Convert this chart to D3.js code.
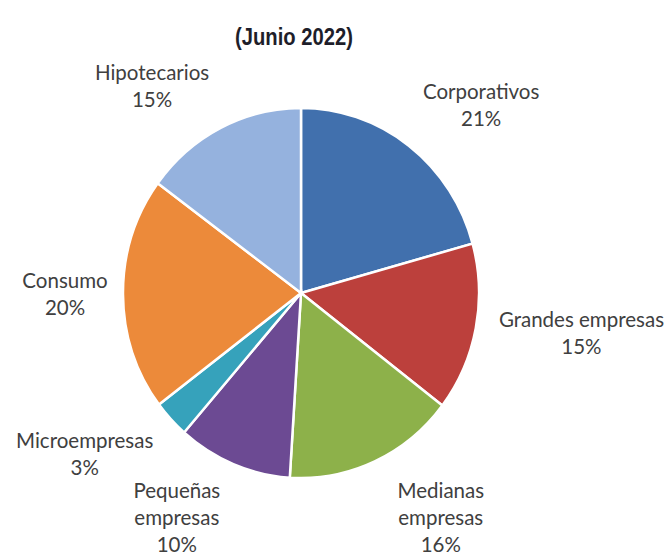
<!DOCTYPE html>
<html>
<head>
<meta charset="utf-8">
<script src="https://cdn.jsdelivr.net/npm/d3@7"></script>
<style>
  body { margin: 0; background: #fff; }
</style>
</head>
<body>
<svg id="chart"></svg>
<script>
// Data ***********************************************************************
const categories = ["Corporativos", "Grandes empresas", "Medianas empresas", "Pequeñas empresas", "Microempresas", "Consumo", "Hipotecarios"];
const labelLines = [["Corporativos"], ["Grandes empresas"], ["Medianas", "empresas"], ["Pequeñas", "empresas"], ["Microempresas"], ["Consumo"], ["Hipotecarios"]];
const shares = [20.7, 14.7, 15.6, 10.4, 3.3, 20.4, 14.9]; // % of portfolio
const colours = ["#4170ad", "#bc403c", "#8db14a", "#6c4a93", "#36a2bb", "#ec8a3a", "#95b2de"];
const title = "(Junio 2022)";

// Excel "best fit" label nudges, relative to the point just outside each slice
const labelNudge = [[30, 16], [37, -7], [37, -6], [-30, -10], [-35, -11], [12, 1], [-37, 22]];

// Layout *********************************************************************
const width = 671, height = 559;
const cx = 301, cy = 293;      // centre of the pie
const rx = 178, ry = 185;      // the source picture is a little squashed
const labelGap = 70;           // distance of the label anchor outside the rim
const lineHeight = 27;

const svg = d3.select("#chart")
    .attr("width", width)
    .attr("height", height);

// Title (narrow bold face, squeezed to the original width)
svg.append("text")
    .attr("x", 294)
    .attr("y", 45)
    .attr("text-anchor", "middle")
    .attr("textLength", 118)
    .attr("lengthAdjust", "spacingAndGlyphs")
    .style("font-family", "'Liberation Sans Narrow', 'Arial Narrow', 'Liberation Sans', sans-serif")
    .style("font-weight", "bold")
    .style("font-size", "23px")
    .style("fill", "#1e1e2a")
    .text(title);

// Pie (unit radius, stretched to the ellipse)
const pie = d3.pie().sort(null).value(d => d);
const arcs = pie(shares);
const arc = d3.arc().innerRadius(0).outerRadius(1);

svg.append("g")
    .attr("transform", `translate(${cx},${cy}) scale(${rx},${ry})`)
    .selectAll("path")
    .data(arcs)
    .enter().append("path")
    .attr("d", arc)
    .attr("fill", (d, i) => colours[i])
    .attr("stroke", "#fff")
    .attr("stroke-width", 2.5)
    .attr("vector-effect", "non-scaling-stroke");

// Labels
const labels = svg.append("g")
    .style("font-family", "Lato, 'Open Sans', sans-serif")
    .style("font-size", "20.5px")
    .style("fill", "#404040");

arcs.forEach((d, i) => {
    const a = (d.startAngle + d.endAngle) / 2;
    const x = cx + (rx + labelGap) * Math.sin(a) + labelNudge[i][0];
    const mid = cy - (ry + labelGap) * Math.cos(a) + labelNudge[i][1];
    const lines = labelLines[i].concat([Math.round(shares[i]) + "%"]);
    const top = mid - (lines.length - 1) * lineHeight / 2 + 6;
    const t = labels.append("text").attr("text-anchor", "middle");
    lines.forEach((s, j) => {
        t.append("tspan")
            .attr("x", x)
            .attr("y", top + j * lineHeight)
            .text(s);
    });
});
</script>
</body>
</html>
